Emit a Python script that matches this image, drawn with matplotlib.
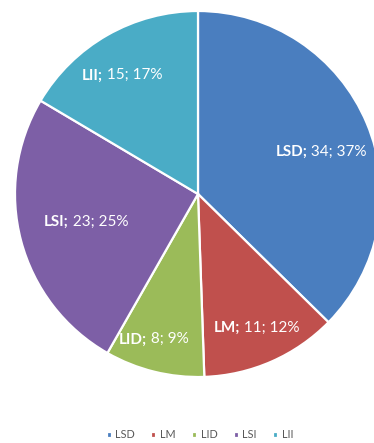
import numpy as np
import matplotlib
matplotlib.use("Agg")
import matplotlib.pyplot as plt
from matplotlib.offsetbox import TextArea, HPacker, AnnotationBbox

# Data
categories = ["LSD", "LM", "LID", "LSI", "LII"]
counts = [34, 11, 8, 23, 15]
pct_labels = ["37%", "12%", "9%", "25%", "17%"]
colors = ["#4A7EBF", "#C0504D", "#9BBB59", "#7D5FA6", "#4AACC6"]

# Radial position of each data label (fraction of radius)
label_radius = [0.71, 0.80, 0.83, 0.63, 0.77]
label_angle_shift = [-4, 0, -3, -1, 3]

plt.rcParams["font.family"] = ["Lato", "DejaVu Sans"]

W, H = 374, 443
fig = plt.figure(figsize=(W / 100, H / 100), dpi=100)

# Pie centre and radius in pixels
cx, cy, R = 198, 194, 183
ax = fig.add_axes([(cx - R) / W, (H - cy - R) / H, 2 * R / W, 2 * R / H])

wedges, _ = ax.pie(counts, colors=colors, startangle=90, counterclock=False,
                   radius=1, center=(0, 0),
                   wedgeprops=dict(edgecolor="white", linewidth=1.6))
ax.set_xlim(-1, 1)
ax.set_ylim(-1, 1)
ax.set_aspect("auto")
ax.axis("off")
for w in wedges:
    w.set_clip_on(False)

for w, name, n, pct, r, da in zip(wedges, categories, counts, pct_labels,
                                   label_radius, label_angle_shift):
    mid = np.deg2rad((w.theta1 + w.theta2) / 2 + da)
    x, y = r * np.cos(mid), r * np.sin(mid)
    part1 = TextArea(f"{name};", textprops=dict(color="white", fontsize=11,
                                                 fontweight="bold"))
    part2 = TextArea(f" {n}; {pct}", textprops=dict(color="white", fontsize=11))
    box = HPacker(children=[part1, part2], pad=0, sep=0, align="baseline")
    ab = AnnotationBbox(box, (x, y), xycoords="data", frameon=False,
                        box_alignment=(0.5, 0.5), pad=0)
    ax.add_artist(ab)

fig.legend(wedges, categories, loc="center", ncol=5,
           bbox_to_anchor=(200 / W, 1 - 435 / H), frameon=False,
           fontsize=7.8, labelcolor="#595959", handlelength=0.45,
           handleheight=0.45, handletextpad=0.35, columnspacing=1.5,
           borderpad=0)

fig.savefig("out.png", dpi=100)
